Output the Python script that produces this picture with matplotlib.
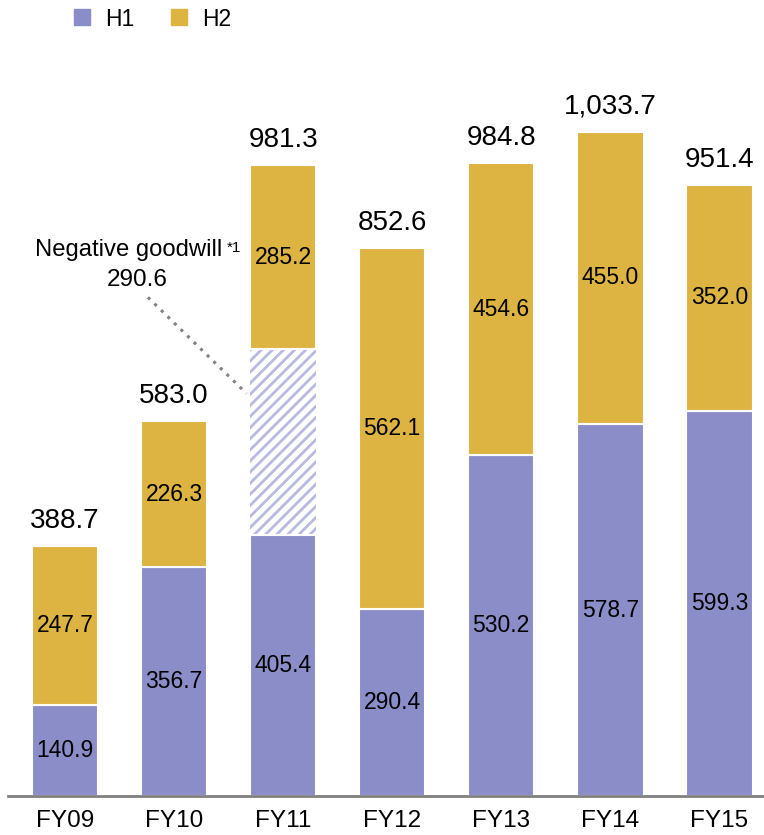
import matplotlib
matplotlib.use("Agg")
import matplotlib.pyplot as plt
from matplotlib.lines import Line2D

plt.rcParams['font.family'] = ['Liberation Sans', 'DejaVu Sans']
plt.rcParams['hatch.linewidth'] = 2.0

categories = ["FY09", "FY10", "FY11", "FY12", "FY13", "FY14", "FY15"]
h1 = [140.9, 356.7, 405.4, 290.4, 530.2, 578.7, 599.3]
neg_goodwill = [0, 0, 290.6, 0, 0, 0, 0]
h2 = [247.7, 226.3, 285.2, 562.1, 454.6, 455.0, 352.0]
totals = [388.7, 583.0, 981.3, 852.6, 984.8, 1033.7, 951.4]

C_H1 = "#8B8DC8"
C_H2 = "#DDB341"
C_HATCH = "#B8BAE2"

fig = plt.figure(figsize=(7.64, 8.35), dpi=100)
ax = fig.add_axes([8 / 764, 39 / 835, 756 / 764, 757 / 835])

x = list(range(len(categories)))
width = 0.61

ax.bar(x, h1, width, color=C_H1, edgecolor="white", linewidth=1.5, zorder=2)
bottom2 = [a + b for a, b in zip(h1, neg_goodwill)]
for i, v in enumerate(neg_goodwill):
    if v > 0:
        ax.bar(x[i], v, width, bottom=h1[i], color="white", edgecolor=C_HATCH,
               hatch="///", linewidth=0, zorder=1)
ax.bar(x, h2, width, bottom=bottom2, color=C_H2, edgecolor="white", linewidth=1.5, zorder=2)

for i in x:
    ax.text(x[i], h1[i] / 2, f"{h1[i]:.1f}", ha="center", va="center", fontsize=16.5, color="black", zorder=3)
    ax.text(x[i], bottom2[i] + h2[i] / 2, f"{h2[i]:.1f}", ha="center", va="center", fontsize=16.5, color="black", zorder=3)
    top = bottom2[i] + h2[i]
    ax.annotate(f"{totals[i]:,.1f}", (x[i], top), xytext=(0, 13), textcoords="offset points",
                ha="center", va="baseline", fontsize=20, color="black")

# Negative goodwill annotation
ax.text(1.44, 849, "Negative goodwill", ha="right", va="center", fontsize=17.2)
ax.text(1.485, 864, "*1", ha="left", va="top", fontsize=11)
ax.text(0.66, 803, f"{neg_goodwill[2]:.1f}", ha="center", va="center", fontsize=17.5)
ax.plot([0.76, x[2] - width / 2 - 0.03], [776, h1[2] + 0.76 * neg_goodwill[2]],
        linestyle=(0, (1, 2.0)), color="#808080", linewidth=2.2)

ax.set_xlim(-0.523, 6.41)
ax.set_ylim(0, 1178)
ax.set_xticks(x)
ax.set_xticklabels(categories, fontsize=17.5)
ax.tick_params(axis="x", length=0, pad=10)
ax.set_yticks([])
for s in ["top", "right", "left"]:
    ax.spines[s].set_visible(False)
ax.spines["bottom"].set_color("#808080")
ax.spines["bottom"].set_linewidth(2)
ax.spines["bottom"].set_zorder(4)

handles = [Line2D([], [], marker="s", linestyle="none", markersize=11, color=C_H1),
           Line2D([], [], marker="s", linestyle="none", markersize=11, color=C_H2)]
fig.legend(handles, ["H1", "H2"], loc="center left", bbox_to_anchor=(50 / 764, 1 - 19 / 835),
           ncol=2, frameon=False, fontsize=16.5, handletextpad=0.5, columnspacing=1.45,
           handlelength=1.0)

fig.savefig("out.png", dpi=100)
